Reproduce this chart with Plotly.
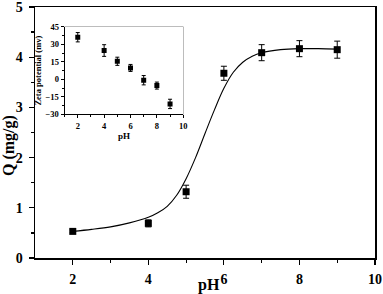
import plotly.graph_objects as go

# Main data: adsorption capacity vs pH
ph = [2, 4, 5, 6, 7, 8, 9]
q = [0.53, 0.69, 1.32, 3.68, 4.09, 4.17, 4.15]
q_err = [0.03, 0.07, 0.13, 0.14, 0.16, 0.16, 0.17]

# Fitted curve
fit_ph = [2.0, 2.5, 3.0, 3.5, 4.0, 4.25, 4.5, 4.75, 5.0, 5.25, 5.5, 5.75, 6.0, 6.25, 6.5, 6.75, 7.0, 7.5, 8.0, 8.5, 9.0]
fit_q = [0.53, 0.57, 0.62, 0.70, 0.81, 0.90, 1.03, 1.25, 1.58, 2.00, 2.48, 2.95, 3.38, 3.70, 3.90, 4.02, 4.09, 4.15, 4.17, 4.17, 4.16]

# Inset data: zeta potential vs pH
zeta = [36.1, 24.7, 15.5, 9.8, -0.7, -5.3, -21.0]
zeta_err = [4.0, 5.0, 3.5, 3.0, 4.0, 3.0, 4.0]

main_x_ticks = [2, 4, 6, 8, 10]
main_y_ticks = [0, 1, 2, 3, 4, 5]
inset_x_ticks = [2, 4, 6, 8, 10]
inset_y_ticks = [-30, -15, 0, 15, 30, 45]

FONT = "Liberation Serif"

fig = go.Figure()
fig.add_trace(go.Scatter(x=fit_ph, y=fit_q, mode="lines", line=dict(color="black", width=1.1, shape="spline"),
                         xaxis="x", yaxis="y", showlegend=False))
fig.add_trace(go.Scatter(x=ph, y=q, mode="markers", marker=dict(symbol="square", size=7, color="black"),
                         error_y=dict(type="data", array=q_err, color="black", thickness=1, width=3),
                         xaxis="x", yaxis="y", showlegend=False))
fig.add_trace(go.Scatter(x=ph, y=zeta, mode="markers", marker=dict(symbol="square", size=5, color="black"),
                         error_y=dict(type="data", array=zeta_err, color="black", thickness=1, width=2),
                         xaxis="x2", yaxis="y2", showlegend=False))

axis_common = dict(showgrid=False, zeroline=False, linecolor="black", ticks="outside", tickcolor="black",
                   ticklabeloverflow="allow")

fig.update_layout(
    width=383, height=294,
    margin=dict(l=35, r=8, t=7, b=36, autoexpand=False),
    paper_bgcolor="white", plot_bgcolor="white",
    font=dict(family=FONT, color="black"),
    hovermode=False,
    xaxis=dict(**axis_common, range=[1, 10], tickvals=main_x_ticks, linewidth=1.5, mirror=True,
               ticklen=5, tickwidth=1.2, ticklabelstandoff=3,
               minor=dict(tickvals=[3, 5, 7, 9], ticks="outside", ticklen=3, tickcolor="black"),
               tickfont=dict(family=FONT, size=14, weight="bold")),
    yaxis=dict(**axis_common, range=[0, 5], tickvals=main_y_ticks, linewidth=1.5, mirror=True,
               ticklen=5, tickwidth=1.2, ticklabelstandoff=3,
               minor=dict(tickvals=[0.5, 1.5, 2.5, 3.5, 4.5], ticks="outside", ticklen=3, tickcolor="black"),
               tickfont=dict(family=FONT, size=14, weight="bold")),
    xaxis2=dict(**axis_common, range=[1, 10], tickvals=inset_x_ticks, domain=[0.087, 0.436], anchor="y2",
                linewidth=1, ticklen=3,
                minor=dict(tickvals=[1, 3, 5, 7, 9], ticks="outside", ticklen=2, tickcolor="black"),
                tickfont=dict(family=FONT, size=8.5, weight="bold"),
                title=dict(text="<b>pH</b>", font=dict(family=FONT, size=9), standoff=0)),
    yaxis2=dict(**axis_common, range=[-30, 45], tickvals=inset_y_ticks, domain=[0.572, 0.921], anchor="x2",
                linewidth=1, ticklen=3,
                minor=dict(tickvals=[-22.5, -7.5, 7.5, 22.5, 37.5], ticks="outside", ticklen=2, tickcolor="black"),
                tickfont=dict(family=FONT, size=8.5, weight="bold"),
                title=dict(text="<b>Zeta potential (mv)</b>", font=dict(family=FONT, size=8.5), standoff=2)),
    shapes=[dict(type="rect", xref="x2 domain", yref="y2 domain", x0=0, x1=1, y0=0, y1=1,
                 line=dict(color="#888888", width=1), layer="below")],
    annotations=[
        dict(text="<b>pH</b>", xref="paper", yref="paper", x=0.512, y=-0.108, showarrow=False,
             xanchor="center", yanchor="middle", font=dict(family=FONT, size=16)),
        dict(text="<b>Q (mg/g)</b>", xref="paper", yref="paper", x=-0.0765, y=0.45, showarrow=False,
             textangle=-90, xanchor="center", yanchor="middle", font=dict(family=FONT, size=16)),
    ],
)

fig.write_html("out.html", config={"displayModeBar": False, "staticPlot": True},
               post_script="document.body.style.margin='0';document.body.style.overflow='hidden';")
